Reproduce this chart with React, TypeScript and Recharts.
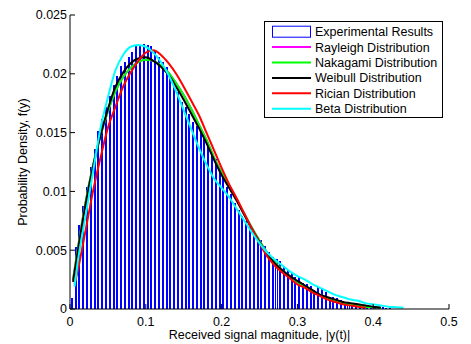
import React from 'react';
import { ComposedChart, Bar, Line, XAxis, YAxis, Legend } from 'recharts';

// Histogram (bin centres, bin width 0.005)
const binCenters = [
  0.0025, 0.0075, 0.0125, 0.0175, 0.0225, 0.0275, 0.0325, 0.0375, 0.0425, 0.0475,
  0.0525, 0.0575, 0.0625, 0.0675, 0.0725, 0.0775, 0.0825, 0.0875, 0.0925, 0.0975,
  0.1025, 0.1075, 0.1125, 0.1175, 0.1225, 0.1275, 0.1325, 0.1375, 0.1425, 0.1475,
  0.1525, 0.1575, 0.1625, 0.1675, 0.1725, 0.1775, 0.1825, 0.1875, 0.1925, 0.1975,
  0.2025, 0.2075, 0.2125, 0.2175, 0.2225, 0.2275, 0.2325, 0.2375, 0.2425, 0.2475,
  0.2525, 0.2575, 0.2625, 0.2675, 0.2725, 0.2775, 0.2825, 0.2875, 0.2925, 0.2975,
  0.3025, 0.3075, 0.3125, 0.3175, 0.3225, 0.3275, 0.3325, 0.3375, 0.3425, 0.3475,
  0.3525, 0.3575, 0.3625, 0.3675, 0.3725, 0.3775, 0.3825, 0.3875, 0.3925, 0.3975,
  0.4025, 0.4075, 0.4125, 0.4175, 0.4225,
];
const binHeights = [
  0.0009, 0.0052, 0.0071, 0.0087, 0.0103, 0.012, 0.0136, 0.0151, 0.0161, 0.0171,
  0.0181, 0.019, 0.0198, 0.0206, 0.021, 0.0214, 0.0218, 0.0223, 0.0224, 0.0225,
  0.0224, 0.0223, 0.022, 0.0214, 0.021, 0.0205, 0.0198, 0.0189, 0.0184, 0.0176,
  0.0171, 0.0165, 0.0159, 0.0155, 0.0151, 0.0144, 0.0139, 0.0133, 0.0127, 0.0119,
  0.0111, 0.0103, 0.0097, 0.009, 0.0084, 0.0079, 0.0074, 0.0069, 0.0064, 0.0061,
  0.0058, 0.0053, 0.0048, 0.0044, 0.0042, 0.0040, 0.0036, 0.0033, 0.0030, 0.0027,
  0.0027, 0.0022, 0.0021, 0.0019, 0.0016, 0.0018, 0.0017, 0.0014, 0.001, 0.001,
  0.0009, 0.0007, 0.0005, 0.0005, 0.0004, 0.0003, 0.00025, 0.0002, 0.00015, 0.00012,
  0.0001, 0.0001, 0.0001, 0.00008, 0.00005,
];

// Fitted curves
const weibullX = [0.004, 0.01, 0.02, 0.03, 0.04, 0.05, 0.06, 0.07, 0.08, 0.09, 0.1, 0.11, 0.12, 0.13, 0.14, 0.15, 0.16, 0.17, 0.18, 0.19, 0.2, 0.21, 0.22, 0.23, 0.24, 0.25, 0.26, 0.27, 0.28, 0.29, 0.3, 0.31, 0.32, 0.33, 0.34, 0.35, 0.36, 0.37, 0.38, 0.39, 0.4, 0.41];
const weibullY = [0.0023, 0.0048, 0.0087, 0.012, 0.0147, 0.017, 0.0189, 0.0201, 0.0209, 0.0213, 0.0214, 0.0211, 0.0206, 0.0199, 0.0189, 0.0178, 0.0166, 0.0154, 0.0141, 0.0127, 0.0114, 0.0103, 0.0092, 0.008, 0.0068, 0.0057, 0.0047, 0.0039, 0.0033, 0.0028, 0.0024, 0.002, 0.0016, 0.0012, 0.001, 0.0008, 0.0006, 0.0005, 0.0004, 0.0003, 0.0002, 0.00012];

const nakagamiX = [0.004, 0.01, 0.02, 0.03, 0.04, 0.05, 0.06, 0.07, 0.08, 0.09, 0.1, 0.11, 0.12, 0.13, 0.14, 0.15, 0.16, 0.17, 0.18, 0.19, 0.2, 0.21, 0.22, 0.23, 0.24, 0.25, 0.26, 0.27, 0.28, 0.29, 0.3, 0.31, 0.32, 0.33, 0.34, 0.35, 0.36, 0.37, 0.38, 0.39, 0.4, 0.41];
const nakagamiY = [0.0025, 0.005, 0.0089, 0.0121, 0.0147, 0.0168, 0.0185, 0.0197, 0.0205, 0.021, 0.0212, 0.0211, 0.0207, 0.0201, 0.0192, 0.0182, 0.017, 0.0157, 0.0144, 0.0129, 0.0116, 0.0105, 0.0093, 0.0081, 0.0069, 0.0058, 0.0048, 0.004, 0.0033, 0.0028, 0.0023, 0.0019, 0.0015, 0.0012, 0.0009, 0.0007, 0.0005, 0.0004, 0.0003, 0.0002, 0.00015, 0.0001];

const rayleighX = nakagamiX;
const rayleighY = nakagamiY;

const ricianX = [0.006, 0.01, 0.02, 0.03, 0.04, 0.05, 0.06, 0.07, 0.08, 0.09, 0.1, 0.11, 0.12, 0.13, 0.14, 0.15, 0.16, 0.17, 0.18, 0.19, 0.2, 0.21, 0.22, 0.23, 0.24, 0.25, 0.26, 0.27, 0.28, 0.29, 0.3, 0.31, 0.32, 0.33, 0.34, 0.35, 0.36, 0.37, 0.38, 0.39];
const ricianY = [0.0021, 0.0032, 0.0065, 0.0099, 0.0128, 0.0154, 0.0172, 0.0189, 0.0201, 0.0211, 0.0218, 0.022, 0.0216, 0.0209, 0.02, 0.0189, 0.0177, 0.0165, 0.015, 0.0135, 0.012, 0.0106, 0.0094, 0.0081, 0.0068, 0.0056, 0.0045, 0.0037, 0.0031, 0.0026, 0.0021, 0.0018, 0.0014, 0.0011, 0.0008, 0.0006, 0.0004, 0.0003, 0.0002, 0.0001];

const betaX = [0.006, 0.01, 0.02, 0.03, 0.04, 0.05, 0.06, 0.07, 0.08, 0.09, 0.1, 0.11, 0.12, 0.13, 0.14, 0.15, 0.16, 0.17, 0.18, 0.19, 0.2, 0.21, 0.22, 0.23, 0.24, 0.25, 0.26, 0.27, 0.28, 0.29, 0.3, 0.31, 0.32, 0.33, 0.34, 0.35, 0.36, 0.37, 0.38, 0.39, 0.4, 0.41, 0.42, 0.43, 0.44];
const betaY = [0.0019, 0.0039, 0.0077, 0.0115, 0.0153, 0.018, 0.0203, 0.0216, 0.0223, 0.02245, 0.0223, 0.0218, 0.021, 0.0199, 0.0185, 0.0169, 0.0153, 0.0137, 0.0123, 0.0111, 0.0103, 0.0095, 0.0085, 0.0075, 0.0065, 0.0056, 0.0048, 0.0042, 0.0037, 0.0032, 0.0028, 0.0025, 0.0021, 0.0018, 0.0015, 0.0012, 0.001, 0.0008, 0.0007, 0.0005, 0.0004, 0.0003, 0.0002, 0.00015, 0.0001];

const xTicks = [0, 0.1, 0.2, 0.3, 0.4, 0.5];
const yTicks = [0, 0.005, 0.01, 0.015, 0.02, 0.025];

const seriesNames = [
  'Experimental Results',
  'Rayleigh Distribution',
  'Nakagami Distribution',
  'Weibull Distribution',
  'Rician Distribution',
  'Beta Distribution',
];
const seriesColors = ['#0000ff', '#ff00ff', '#00ff00', '#000000', '#ff0000', '#00ffff'];

const FONT = '"Liberation Sans", Arial, Helvetica, sans-serif';
const TICK_LEN = 5;
const BOTTOM_MARGIN = 8;
const LEFT_MARGIN = 3;

const toPts = (xs: number[], ys: number[]) => xs.map((x, i) => ({ x, y: ys[i] }));

function BottomTick(props: any) {
  const { x, y, payload } = props;
  const axisY = y - BOTTOM_MARGIN;
  return (
    <g>
      <line x1={x} x2={x} y1={axisY} y2={axisY - TICK_LEN} stroke="#000" strokeWidth={1} />
      <text x={x} y={y} dy="0.71em" textAnchor="middle" fontSize={12.5} fontFamily={FONT} fill="#000">
        {payload.value}
      </text>
    </g>
  );
}

function LeftTick(props: any) {
  const { x, y, payload } = props;
  const axisX = x + LEFT_MARGIN;
  return (
    <g>
      <line x1={axisX} x2={axisX + TICK_LEN} y1={y} y2={y} stroke="#000" strokeWidth={1} />
      <text x={x} y={y} dy="0.355em" textAnchor="end" fontSize={12.5} fontFamily={FONT} fill="#000">
        {payload.value}
      </text>
    </g>
  );
}

function TopTick(props: any) {
  const { x, y } = props;
  return <line x1={x} x2={x} y1={y} y2={y + TICK_LEN} stroke="#000" strokeWidth={1} />;
}

function RightTick(props: any) {
  const { x, y } = props;
  return <line x1={x} x2={x - TICK_LEN} y1={y} y2={y} stroke="#000" strokeWidth={1} />;
}

function LegendBox() {
  const w = 179;
  const h = 97;
  const rowY = (i: number) => 10.7 + i * 15.4;
  return (
    <svg width={w} height={h} style={{ display: 'block' }}>
      <rect x={0.5} y={0.5} width={w - 1} height={h - 1} fill="#fff" stroke="#000" strokeWidth={1} />
      {seriesNames.map((name, i) => (
        <g key={name}>
          {i === 0 ? (
            <rect x={8.5} y={rowY(i) - 5.5} width={38} height={11} fill="#fff" stroke={seriesColors[i]} strokeWidth={1} />
          ) : (
            <line x1={8} x2={47} y1={rowY(i)} y2={rowY(i)} stroke={seriesColors[i]} strokeWidth={2} />
          )}
          <text x={51} y={rowY(i) + 4.4} fontSize={12.5} fontFamily={FONT} fill="#000">
            {name}
          </text>
        </g>
      ))}
    </svg>
  );
}

export default function App() {
  const histData = binCenters.map((x, i) => ({ x, h: binHeights[i] }));
  const lineProps = { type: 'monotone' as const, dataKey: 'y', dot: false, strokeWidth: 2, isAnimationActive: false, activeDot: false };
  return (
    <div style={{ position: 'absolute', left: 0, top: 0, width: 471, height: 344, background: '#fff' }}>
      <ComposedChart width={471} height={344} data={histData} margin={{ top: 15, right: 22, bottom: 0, left: 15 }}>
        <XAxis
          dataKey="x"
          type="number"
          domain={[0, 0.5]}
          ticks={xTicks}
          allowDataOverflow
          height={35}
          tickSize={0}
          tickLine={false}
          tickMargin={BOTTOM_MARGIN}
          stroke="#000"
          tick={<BottomTick />}
          label={{ value: 'Received signal magnitude, |y(t)|', position: 'insideBottom', offset: 5, style: { fontSize: 12.5, fill: '#000', fontFamily: FONT } }}
        />
        <XAxis xAxisId="top" orientation="top" type="number" domain={[0, 0.5]} ticks={xTicks} height={0} tickSize={0} tickMargin={0} tickLine={false} tick={<TopTick />} stroke="#000" allowDataOverflow />
        <YAxis
          type="number"
          domain={[0, 0.025]}
          ticks={yTicks}
          allowDataOverflow
          width={55}
          tickSize={0}
          tickLine={false}
          tickMargin={LEFT_MARGIN}
          stroke="#000"
          tick={<LeftTick />}
          label={{ value: 'Probability Density, f(y)', angle: -90, position: 'center', dx: -19.5, style: { fontSize: 12.5, fill: '#000', fontFamily: FONT, textAnchor: 'middle' } }}
        />
        <YAxis yAxisId="right" orientation="right" type="number" domain={[0, 0.025]} ticks={yTicks} width={0} tickSize={0} tickMargin={0} tickLine={false} tick={<RightTick />} stroke="#000" allowDataOverflow />
        <Bar dataKey="h" barSize={3.79} fill="#ffffff" stroke="#0000ff" strokeWidth={1} shapeRendering="crispEdges" isAnimationActive={false} name={seriesNames[0]} />
        <Line {...lineProps} data={toPts(rayleighX, rayleighY)} stroke={seriesColors[1]} name={seriesNames[1]} />
        <Line {...lineProps} data={toPts(nakagamiX, nakagamiY)} stroke={seriesColors[2]} name={seriesNames[2]} />
        <Line {...lineProps} data={toPts(weibullX, weibullY)} stroke={seriesColors[3]} name={seriesNames[3]} />
        <Line {...lineProps} data={toPts(ricianX, ricianY)} stroke={seriesColors[4]} name={seriesNames[4]} />
        <Line {...lineProps} data={toPts(betaX, betaY)} stroke={seriesColors[5]} name={seriesNames[5]} />
        <Legend
          layout="horizontal"
          verticalAlign="middle"
          align="center"
          content={() => <LegendBox />}
          wrapperStyle={{ left: 264, top: 21, width: 179, height: 97 }}
        />
      </ComposedChart>
    </div>
  );
}
